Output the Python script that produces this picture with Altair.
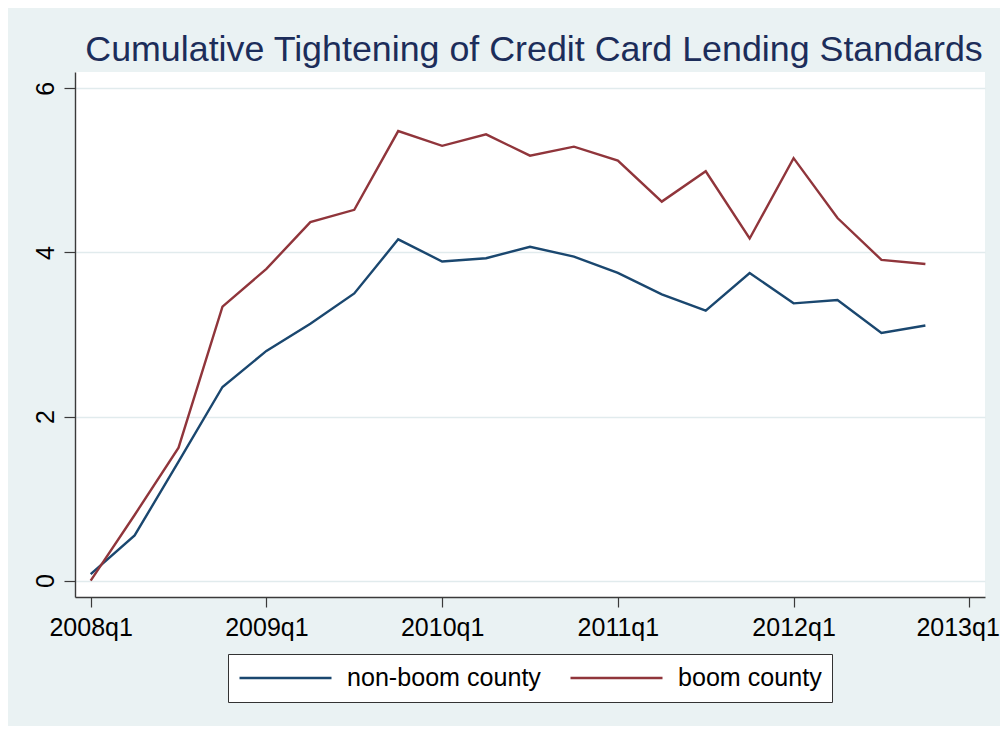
import altair as alt
import pandas as pd

quarters = ["2008q1", "2008q2", "2008q3", "2008q4", "2009q1", "2009q2", "2009q3", "2009q4",
            "2010q1", "2010q2", "2010q3", "2010q4", "2011q1", "2011q2", "2011q3", "2011q4",
            "2012q1", "2012q2", "2012q3", "2012q4"]
non_boom = [0.08, 0.55, 1.45, 2.36, 2.80, 3.13, 3.50, 4.16, 3.89, 3.93,
            4.07, 3.95, 3.75, 3.49, 3.29, 3.75, 3.38, 3.42, 3.02, 3.11]
boom = [0.00, 0.80, 1.62, 3.34, 3.80, 4.37, 4.52, 5.48, 5.30, 5.44,
        5.18, 5.29, 5.12, 4.62, 4.99, 4.17, 5.15, 4.42, 3.91, 3.86]
series_names = ["non-boom county", "boom county"]
series_colors = ["#1A476F", "#90353B"]
x_tick_values = [0, 4, 8, 12, 16, 20]
x_tick_labels = ["2008q1", "2009q1", "2010q1", "2011q1", "2012q1", "2013q1"]
y_tick_values = [0, 2, 4, 6]
title_text = "Cumulative Tightening of Credit Card Lending Standards"

rows = []
for name, vals in zip(series_names, [non_boom, boom]):
    for i, (q, v) in enumerate(zip(quarters, vals)):
        rows.append({"series": name, "quarter": q, "t": i, "value": v})
df = pd.DataFrame(rows)

label_expr = "[" + ",".join("'%s'" % s for s in x_tick_labels) + "][round(datum.value/4)]"

FONT = "Liberation Sans"
AXIS_COLOR = "#3a3a3a"

chart = alt.Chart(df).mark_line(strokeWidth=2.4).encode(
    x=alt.X("t:Q",
            scale=alt.Scale(domain=[-0.357, 20.357], nice=False, zero=False),
            axis=alt.Axis(values=x_tick_values, labelExpr=label_expr, title=None, grid=False,
                          labelFont=FONT, labelFontSize=25, labelColor="black",
                          labelBaseline="alphabetic", labelPadding=28, tickSize=10,
                          labelAlign={"condition": {"test": "datum.value == 20", "value": "right"},
                                      "value": "center"},
                          labelOffset={"condition": {"test": "datum.value == 20", "value": 30},
                                       "value": 0},
                          tickColor=AXIS_COLOR, tickWidth=1.2, domainColor=AXIS_COLOR,
                          domainWidth=1.4, labelFlush=False, labelOverlap=False)),
    y=alt.Y("value:Q",
            scale=alt.Scale(domain=[-0.2, 6.2], nice=False, zero=False),
            axis=alt.Axis(values=y_tick_values, title=None, grid=True, gridColor="#E1EBED",
                          gridWidth=1.6, labelFont=FONT, labelFontSize=25, labelColor="black",
                          labelAngle=270, labelAlign="center", labelBaseline="alphabetic",
                          labelPadding=11, tickSize=11, tickColor=AXIS_COLOR, tickWidth=1.2,
                          domainColor=AXIS_COLOR, domainWidth=1.4, labelFlush=False)),
    color=alt.Color("series:N",
                    scale=alt.Scale(domain=series_names, range=series_colors),
                    legend=alt.Legend(title=None, orient="none", legendX=153, legendY=582,
                                      direction="horizontal", columns=2,
                                      fillColor="white", strokeColor="#333333", padding=10,
                                      symbolType="stroke", symbolSize=8464, symbolStrokeWidth=2.4,
                                      clipHeight=28, labelLimit=400,
                                      labelFont=FONT, labelFontSize=25.1, labelColor="black",
                                      labelOffset=14, columnPadding=28)),
    order=alt.Order("t:Q"),
).properties(
    width=910,
    height=525,
    title=alt.TitleParams(text=title_text, font=FONT, fontSize=35.8, fontWeight="normal",
                          color="#1C2D5A", anchor="middle", dx=4, dy=36, offset=11,
                          baseline="alphabetic"),
    autosize=alt.AutoSizeParams(type="none"),
    padding={"left": 67, "top": 64, "right": 15, "bottom": 129},
).configure(
    background="#EAF2F3",
).configure_view(
    fill="white", strokeWidth=0,
)

chart.save("out.html", embed_options={"renderer": "svg", "actions": False})
